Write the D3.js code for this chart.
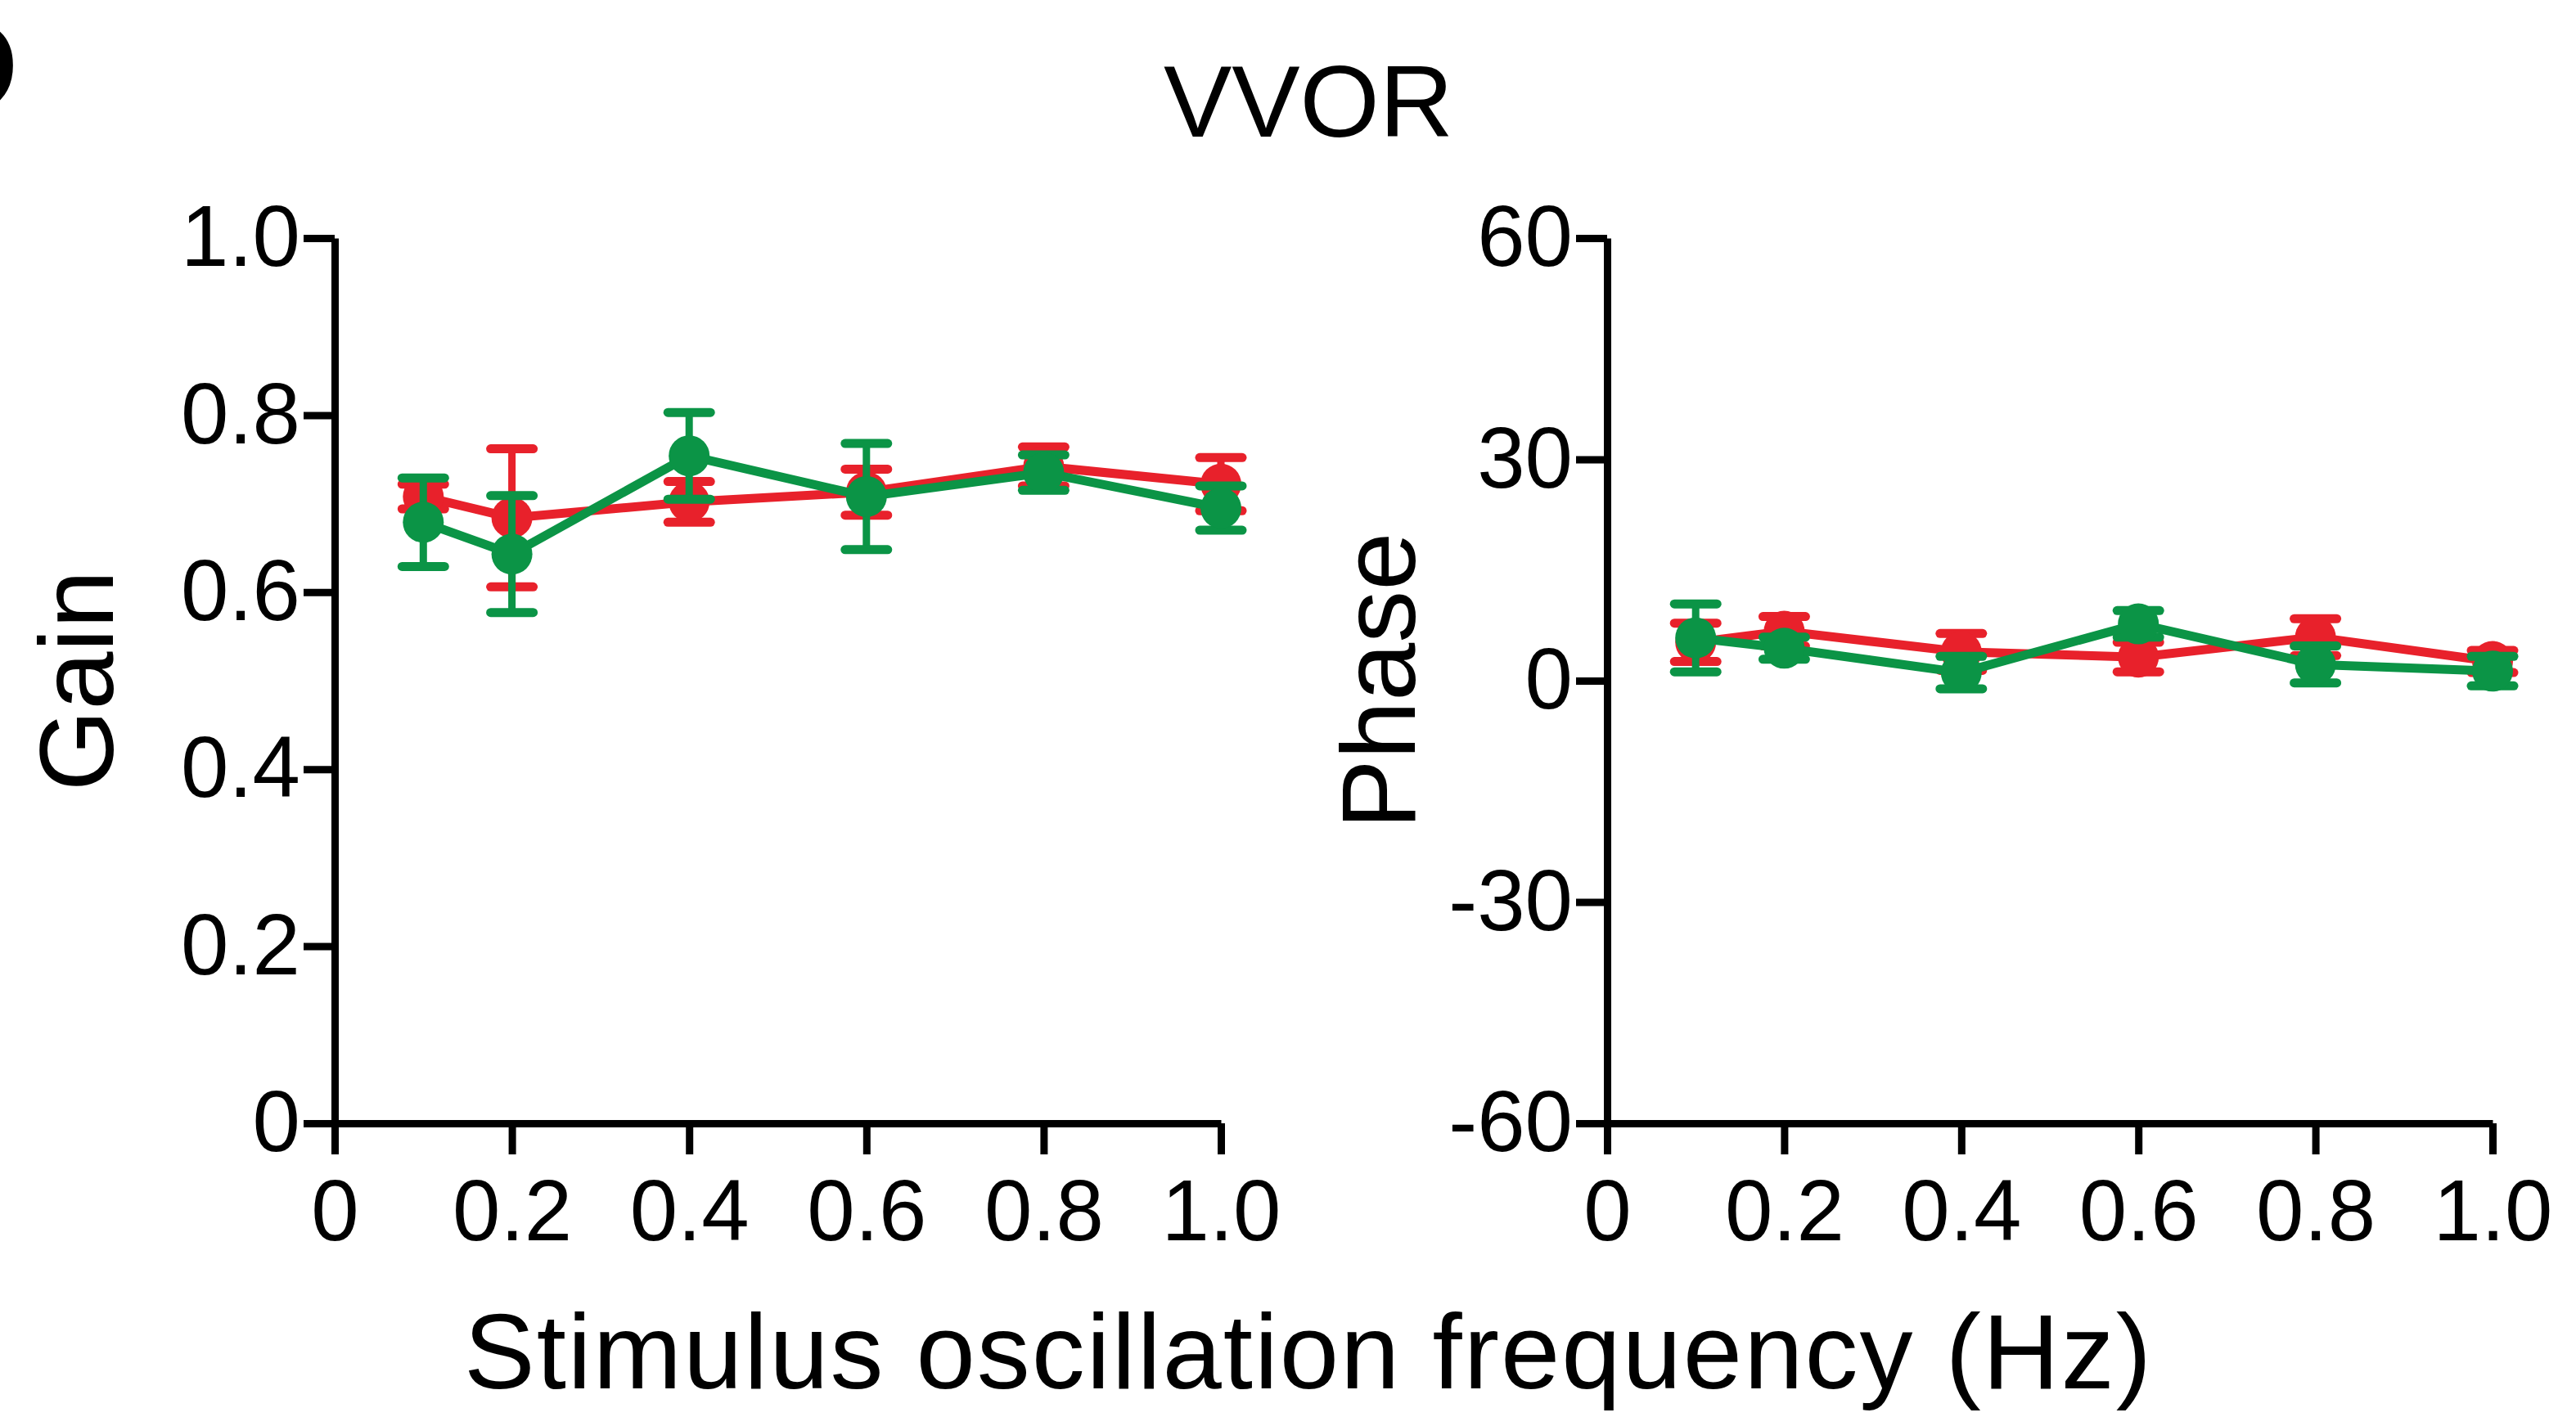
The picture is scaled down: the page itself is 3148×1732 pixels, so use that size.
<!DOCTYPE html>
<html lang="en">
<head>
    <meta charset="UTF-8">
    <title>VVOR</title>
    <script src="https://d3js.org/d3.v7.min.js"></script>
    <style>
        body {
            margin: 0;
            background: #fff;
            font-family: "Liberation Sans", Arial, sans-serif;
        }
        svg {
            display: block;
        }
        .axis path, .axis line {
            stroke: #000;
            stroke-width: 9;
        }
        .axis text {
            font-size: 105px;
            font-family: "Liberation Sans", Arial, sans-serif;
            fill: #000;
        }
        .title {
            font-size: 128px;
            fill: #000;
        }
    </style>
</head>
<body>
    <svg id="chart"></svg>
    <script>
        // frequencies (Hz)
        const freqs = [0.1, 0.2, 0.4, 0.6, 0.8, 1.0];

        // gain
        const gainRed = [0.708, 0.684, 0.702, 0.713, 0.742, 0.722];
        const gainRedErr = [0.014, 0.078, 0.023, 0.026, 0.022, 0.03];
        const gainGreen = [0.679, 0.643, 0.754, 0.708, 0.735, 0.695];
        const gainGreenErr = [0.05, 0.066, 0.049, 0.06, 0.02, 0.025];

        // phase (deg)
        const phaseRed = [5.2, 6.7, 3.9, 3.2, 5.9, 2.6];
        const phaseRedErr = [2.6, 2.0, 2.5, 2.0, 2.5, 1.5];
        const phaseGreen = [5.8, 4.4, 1.1, 7.7, 2.2, 1.3];
        const phaseGreenErr = [4.6, 1.5, 2.2, 1.8, 2.5, 2.0];

        const xTicks = [0, 0.2, 0.4, 0.6, 0.8, 1.0];
        const gainTicks = [0, 0.2, 0.4, 0.6, 0.8, 1.0];
        const phaseTicks = [-60, -30, 0, 30, 60];

        const red = "#e8212b", green = "#0b9446";

        const width = 3148, height = 1732;
        const svg = d3.select("#chart").attr("width", width).attr("height", height);

        const yTop = 291, yBottom = 1373;

        function panel(x0, x1, yDomain, yTicks, yFmt, series, yLabel, yLabelX) {
            const x = d3.scaleLinear().domain([0, 1]).range([x0, x1]);
            const y = d3.scaleLinear().domain(yDomain).range([yBottom, yTop]);

            svg.append("g")
                .attr("class", "axis")
                .attr("transform", `translate(0,${yBottom})`)
                .call(d3.axisBottom(x).tickValues(xTicks).tickSize(38).tickSizeOuter(0).tickPadding(30)
                    .tickFormat(d => d === 0 ? "0" : d3.format(".1f")(d)));

            svg.append("g")
                .attr("class", "axis")
                .attr("transform", `translate(${x0},0)`)
                .call(d3.axisLeft(y).tickValues(yTicks).tickSize(38).tickSizeOuter(0).tickPadding(4)
                    .tickFormat(yFmt));

            svg.append("text")
                .attr("class", "title")
                .attr("transform", `translate(${yLabelX},${(yTop + yBottom) / 2}) rotate(-90)`)
                .attr("text-anchor", "middle")
                .text(yLabel);

            const line = d3.line().x(d => x(d.f)).y(d => y(d.v));

            series.forEach(s => {
                const pts = freqs.map((f, i) => ({ f: f, v: s.vals[i], e: s.errs[i] }));
                const g = svg.append("g");

                g.selectAll(".bar")
                    .data(pts)
                    .enter()
                    .append("line")
                    .attr("x1", d => x(d.f)).attr("x2", d => x(d.f))
                    .attr("y1", d => y(d.v - d.e)).attr("y2", d => y(d.v + d.e))
                    .attr("stroke", s.color).attr("stroke-width", 9);

                ["lo", "hi"].forEach(k => {
                    g.selectAll(".cap-" + k)
                        .data(pts)
                        .enter()
                        .append("line")
                        .attr("x1", d => x(d.f) - 26).attr("x2", d => x(d.f) + 26)
                        .attr("y1", d => y(k === "lo" ? d.v - d.e : d.v + d.e))
                        .attr("y2", d => y(k === "lo" ? d.v - d.e : d.v + d.e))
                        .attr("stroke", s.color).attr("stroke-width", 11)
                        .attr("stroke-linecap", "round");
                });

                g.append("path")
                    .datum(pts)
                    .attr("d", line)
                    .attr("fill", "none")
                    .attr("stroke", s.color)
                    .attr("stroke-width", 11);

                g.selectAll("circle")
                    .data(pts)
                    .enter()
                    .append("circle")
                    .attr("cx", d => x(d.f))
                    .attr("cy", d => y(d.v))
                    .attr("r", 25)
                    .attr("fill", s.color);
            });
        }

        panel(409, 1492, [0, 1], gainTicks,
            d => d === 0 ? "0" : d3.format(".1f")(d),
            [{ vals: gainRed, errs: gainRedErr, color: red },
             { vals: gainGreen, errs: gainGreenErr, color: green }],
            "Gain", 138);

        panel(1964, 3046, [-60, 60], phaseTicks,
            d => String(d),
            [{ vals: phaseRed, errs: phaseRedErr, color: red },
             { vals: phaseGreen, errs: phaseGreenErr, color: green }],
            "Phase", 1729);

        svg.append("text")
            .attr("class", "title")
            .attr("x", 1599).attr("y", 167)
            .attr("text-anchor", "middle")
            .style("font-size", "125px")
            .text("VVOR");

        svg.append("text")
            .attr("class", "title")
            .attr("x", 1599).attr("y", 1697)
            .attr("text-anchor", "middle")
            .style("font-size", "130px")
            .style("letter-spacing", "2px")
            .text("Stimulus oscillation frequency (Hz)");

        // panel letter, cut off at the left edge as in the original figure
        svg.append("text")
            .attr("x", -95).attr("y", 137)
            .style("font-size", "163px")
            .style("font-weight", "bold")
            .text("D");
    </script>
</body>
</html>
